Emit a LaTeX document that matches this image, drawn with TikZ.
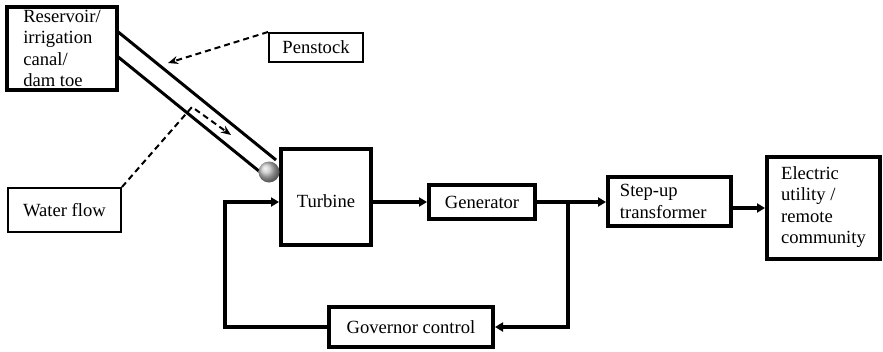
\documentclass[tikz,border=0pt]{standalone}
\usepackage{fontspec}
\setmainfont{Liberation Serif}
\usetikzlibrary{arrows.meta,calc}

\begin{document}
\begin{tikzpicture}[x=1pt,y=-1pt,
  every node/.style={font=\fontsize{18.6}{21.6}\selectfont},
  box/.style={draw, line width=3.8pt, align=left, inner sep=0pt},
  tag/.style={draw, line width=1.6pt, inner sep=0pt},
  conn/.style={line width=3.2pt, -{Triangle[length=8pt,width=9pt]}},
  pipe/.style={line width=3pt},
  pointer/.style={line width=2pt, dash pattern=on 6pt off 4pt,
                  -{Stealth[length=10pt,width=8pt]}}]

\useasboundingbox (0,0) rectangle (883,351);

% main blocks
\node[box, minimum width=110.2pt, minimum height=83.2pt] (res) at (62,48.5)
  {Reservoir/\\irrigation\\canal/\\dam toe};
\node[box, minimum width=90.2pt, minimum height=96.2pt, text height=21.7pt] (tur) at (326,197) {Turbine};
\node[box, minimum width=106.2pt, minimum height=34.2pt] (gen) at (482,202) {Generator};
\node[box, minimum height=49.2pt, text width=99.2pt, inner xsep=12pt] (tr) at (669.5,201.5)
  {Step-up\\transformer};
\node[box, minimum width=113.2pt, minimum height=102.2pt, text depth=6pt] (el) at (823.5,208)
  {Electric\\utility /\\remote\\community};
\node[box, minimum width=164.2pt, minimum height=40.2pt] (gov) at (411,327) {Governor control};

% callout labels
\node[tag, minimum width=94.4pt, minimum height=29.4pt] (pen) at (316,47.5) {Penstock};
\node[tag, minimum width=113.4pt, minimum height=44.4pt] (wf) at (64.5,210) {Water flow};

% penstock pipe and valve
\draw[pipe] (117,31) -- (276,160);
\draw[pipe] (117,56) -- (265,176);
\node[circle, minimum size=21pt, inner sep=0pt, shade, ball color=gray!45] (valve) at (269,172) {};

% callout pointers
\coordinate (pentip) at (168,63);
\coordinate (bend) at (192,107);
\coordinate (flowtip) at (231,135);
\draw[pointer] (pen.north west) -- (pentip);
\draw[pointer] (wf.north east) -- (bend) -- (flowtip);

% signal flow
\coordinate (j) at (568,202);
\coordinate (fb) at (225,327);
\draw[conn] (tur.east|-gen.west) -- (gen.west);
\draw[conn] (gen.east) -- (gen.east-|tr.west);
\draw[conn] (tr.east|-el.west) -- (el.west);
\draw[conn] (j) |- (gov.east);
\draw[conn] (gov.west) -- (fb) |- (tur.west|-gen.west);
\end{tikzpicture}
\end{document}
